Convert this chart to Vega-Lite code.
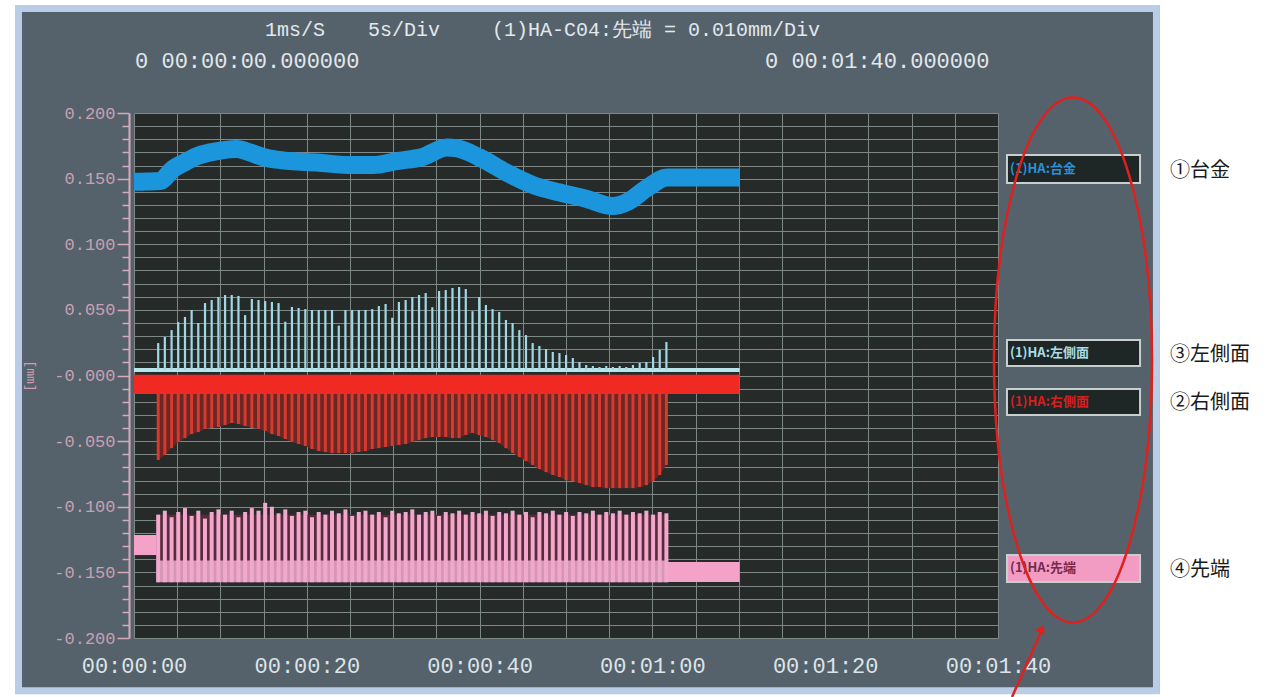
{
  "$schema": "https://vega.github.io/schema/vega-lite/v6.json",
  "width": 864,
  "height": 525,
  "autosize": {"type": "none"},
  "padding": {"left": 134, "top": 113, "right": 289, "bottom": 59},
  "background": "#56626b",
  "config": {"view": {"fill": "#262b2a", "stroke": null}},
  "datasets": {
    "white": [
      {"t0": 118.75, "t1": 140, "lo": -0.3, "hi": 0.32},
      {"t0": -20, "t1": -13.77, "lo": -0.3, "hi": 0.32},
      {"t0": -20, "t1": 140, "lo": 0.2823, "hi": 0.32},
      {"t0": -20, "t1": 140, "lo": -0.3, "hi": -0.2419}
    ],
    "frame": [{"t0": -13.37, "t1": 118.34, "lo": -0.2401, "hi": 0.2796}],
    "blue": [
      {"t": 0, "v": 0.1476}, {"t": 1.5, "v": 0.1478}, {"t": 3.0, "v": 0.1482}, {"t": 4.5, "v": 0.1573},
      {"t": 5.9, "v": 0.1625}, {"t": 7.3, "v": 0.1672}, {"t": 8.7, "v": 0.1698}, {"t": 10.0, "v": 0.1714},
      {"t": 11.9, "v": 0.1726}, {"t": 13.4, "v": 0.1700}, {"t": 14.9, "v": 0.1665}, {"t": 16.5, "v": 0.1645},
      {"t": 18.1, "v": 0.1634}, {"t": 21.2, "v": 0.1623}, {"t": 24.7, "v": 0.1604}, {"t": 27.7, "v": 0.1604},
      {"t": 30.4, "v": 0.1634}, {"t": 33.4, "v": 0.1665}, {"t": 36.2, "v": 0.1737}, {"t": 37.4, "v": 0.1730},
      {"t": 40.0, "v": 0.1661}, {"t": 43.2, "v": 0.1543}, {"t": 46.2, "v": 0.1451}, {"t": 49.3, "v": 0.1394},
      {"t": 52.4, "v": 0.1345}, {"t": 55.4, "v": 0.1291}, {"t": 57.1, "v": 0.1322}, {"t": 59.4, "v": 0.1429},
      {"t": 61.7, "v": 0.1509}, {"t": 65.0, "v": 0.1509}, {"t": 70.1, "v": 0.1509}
    ],
    "spikes": [
      {"t": 2.80, "up": 0.0247, "dn": -0.0644, "pk": -0.106},
      {"t": 3.57, "up": 0.0293, "dn": -0.0606, "pk": -0.103},
      {"t": 4.35, "up": 0.0346, "dn": -0.0553, "pk": -0.108},
      {"t": 5.12, "up": 0.0407, "dn": -0.0507, "pk": -0.104},
      {"t": 5.90, "up": 0.0446, "dn": -0.0477, "pk": -0.101},
      {"t": 6.67, "up": 0.0499, "dn": -0.0446, "pk": -0.107},
      {"t": 7.44, "up": 0.0400, "dn": -0.0431, "pk": -0.103},
      {"t": 8.22, "up": 0.0552, "dn": -0.0408, "pk": -0.109},
      {"t": 8.99, "up": 0.0575, "dn": -0.0400, "pk": -0.104},
      {"t": 9.77, "up": 0.0598, "dn": -0.0393, "pk": -0.102},
      {"t": 10.54, "up": 0.0613, "dn": -0.0377, "pk": -0.106},
      {"t": 11.31, "up": 0.0613, "dn": -0.0362, "pk": -0.103},
      {"t": 12.09, "up": 0.0606, "dn": -0.0370, "pk": -0.108},
      {"t": 12.86, "up": 0.0460, "dn": -0.0385, "pk": -0.104},
      {"t": 13.64, "up": 0.0583, "dn": -0.0400, "pk": -0.101},
      {"t": 14.41, "up": 0.0575, "dn": -0.0408, "pk": -0.103},
      {"t": 15.18, "up": 0.0567, "dn": -0.0423, "pk": -0.097},
      {"t": 15.96, "up": 0.0560, "dn": -0.0446, "pk": -0.100},
      {"t": 16.73, "up": 0.0552, "dn": -0.0461, "pk": -0.105},
      {"t": 17.51, "up": 0.0410, "dn": -0.0484, "pk": -0.102},
      {"t": 18.28, "up": 0.0522, "dn": -0.0507, "pk": -0.107},
      {"t": 19.05, "up": 0.0514, "dn": -0.0522, "pk": -0.104},
      {"t": 19.83, "up": 0.0506, "dn": -0.0537, "pk": -0.103},
      {"t": 20.60, "up": 0.0499, "dn": -0.0560, "pk": -0.108},
      {"t": 21.38, "up": 0.0499, "dn": -0.0576, "pk": -0.104},
      {"t": 22.15, "up": 0.0499, "dn": -0.0583, "pk": -0.106},
      {"t": 22.92, "up": 0.0499, "dn": -0.0591, "pk": -0.103},
      {"t": 23.70, "up": 0.0380, "dn": -0.0591, "pk": -0.105},
      {"t": 24.47, "up": 0.0499, "dn": -0.0591, "pk": -0.102},
      {"t": 25.25, "up": 0.0499, "dn": -0.0591, "pk": -0.107},
      {"t": 26.02, "up": 0.0499, "dn": -0.0583, "pk": -0.104},
      {"t": 26.79, "up": 0.0499, "dn": -0.0576, "pk": -0.103},
      {"t": 27.57, "up": 0.0506, "dn": -0.0560, "pk": -0.106},
      {"t": 28.34, "up": 0.0529, "dn": -0.0553, "pk": -0.104},
      {"t": 29.12, "up": 0.0545, "dn": -0.0545, "pk": -0.108},
      {"t": 29.89, "up": 0.0440, "dn": -0.0537, "pk": -0.103},
      {"t": 30.66, "up": 0.0560, "dn": -0.0530, "pk": -0.105},
      {"t": 31.44, "up": 0.0575, "dn": -0.0522, "pk": -0.104},
      {"t": 32.21, "up": 0.0598, "dn": -0.0507, "pk": -0.102},
      {"t": 32.99, "up": 0.0613, "dn": -0.0492, "pk": -0.106},
      {"t": 33.76, "up": 0.0628, "dn": -0.0477, "pk": -0.104},
      {"t": 34.53, "up": 0.0520, "dn": -0.0469, "pk": -0.103},
      {"t": 35.31, "up": 0.0644, "dn": -0.0469, "pk": -0.107},
      {"t": 36.08, "up": 0.0651, "dn": -0.0469, "pk": -0.104},
      {"t": 36.86, "up": 0.0667, "dn": -0.0477, "pk": -0.105},
      {"t": 37.63, "up": 0.0674, "dn": -0.0477, "pk": -0.103},
      {"t": 38.40, "up": 0.0659, "dn": -0.0454, "pk": -0.106},
      {"t": 39.18, "up": 0.0490, "dn": -0.0438, "pk": -0.104},
      {"t": 39.95, "up": 0.0598, "dn": -0.0454, "pk": -0.105},
      {"t": 40.73, "up": 0.0537, "dn": -0.0469, "pk": -0.103},
      {"t": 41.50, "up": 0.0506, "dn": -0.0492, "pk": -0.107},
      {"t": 42.27, "up": 0.0484, "dn": -0.0515, "pk": -0.104},
      {"t": 43.05, "up": 0.0423, "dn": -0.0553, "pk": -0.105},
      {"t": 43.82, "up": 0.0400, "dn": -0.0591, "pk": -0.103},
      {"t": 44.60, "up": 0.0346, "dn": -0.0621, "pk": -0.106},
      {"t": 45.37, "up": 0.0308, "dn": -0.0652, "pk": -0.104},
      {"t": 46.14, "up": 0.0247, "dn": -0.0682, "pk": -0.108},
      {"t": 46.92, "up": 0.0225, "dn": -0.0713, "pk": -0.104},
      {"t": 47.69, "up": 0.0202, "dn": -0.0736, "pk": -0.105},
      {"t": 48.47, "up": 0.0179, "dn": -0.0758, "pk": -0.103},
      {"t": 49.24, "up": 0.0171, "dn": -0.0774, "pk": -0.106},
      {"t": 50.01, "up": 0.0156, "dn": -0.0797, "pk": -0.104},
      {"t": 50.79, "up": 0.0133, "dn": -0.0804, "pk": -0.107},
      {"t": 51.56, "up": 0.0103, "dn": -0.0819, "pk": -0.104},
      {"t": 52.34, "up": 0.0080, "dn": -0.0835, "pk": -0.105},
      {"t": 53.11, "up": 0.0072, "dn": -0.0850, "pk": -0.103},
      {"t": 53.88, "up": 0.0065, "dn": -0.0850, "pk": -0.106},
      {"t": 54.66, "up": 0.0072, "dn": -0.0858, "pk": -0.104},
      {"t": 55.43, "up": 0.0065, "dn": -0.0858, "pk": -0.105},
      {"t": 56.21, "up": 0.0072, "dn": -0.0858, "pk": -0.103},
      {"t": 56.98, "up": 0.0065, "dn": -0.0858, "pk": -0.106},
      {"t": 57.75, "up": 0.0080, "dn": -0.0858, "pk": -0.104},
      {"t": 58.53, "up": 0.0095, "dn": -0.0850, "pk": -0.105},
      {"t": 59.30, "up": 0.0103, "dn": -0.0835, "pk": -0.103},
      {"t": 60.08, "up": 0.0141, "dn": -0.0804, "pk": -0.106},
      {"t": 60.85, "up": 0.0194, "dn": -0.0758, "pk": -0.104},
      {"t": 61.62, "up": 0.0255, "dn": -0.0682, "pk": -0.105}
    ],
    "pinkbands": [
      {"s": "pre", "t0": 0, "t1": 2.7, "lo": -0.1368, "hi": -0.1215},
      {"s": "bg", "t0": 2.6, "t1": 61.8, "lo": -0.1420, "hi": -0.1060},
      {"s": "low", "t0": 2.6, "t1": 61.8, "lo": -0.1575, "hi": -0.1410},
      {"s": "post", "t0": 61.8, "t1": 70.1, "lo": -0.1573, "hi": -0.1421}
    ],
    "redband": [{"t0": 0, "t1": 70.1, "lo": -0.0140, "hi": 0.0005}],
    "cyanbase": [{"t0": 0, "t1": 70.1, "v": 0.0042}],
    "legend": [
      {"s": "blue", "name": "(1)HA:台金", "t0": 101.04, "t1": 116.44, "lo": 0.1467, "hi": 0.1680, "ty": 0.1573},
      {"s": "cyan", "name": "(1)HA:左側面", "t0": 101.04, "t1": 116.44, "lo": 0.0072, "hi": 0.0271, "ty": 0.0171},
      {"s": "red", "name": "(1)HA:右側面", "t0": 101.04, "t1": 116.44, "lo": -0.0301, "hi": -0.0103, "ty": -0.0202},
      {"s": "pink", "name": "(1)HA:先端", "t0": 101.04, "t1": 116.44, "lo": -0.1573, "hi": -0.1368, "ty": -0.1470}
    ],
    "header": [
      {"label": "1ms/S", "t": 15.16, "v": 0.2632, "line": 1},
      {"label": "5s/Div", "t": 27.08, "v": 0.2632, "line": 1},
      {"label": "(1)HA-C04:先端 = 0.010mm/Div", "t": 41.44, "v": 0.2632, "line": 1},
      {"label": "0 00:00:00.000000", "t": 0.12, "v": 0.2396, "line": 2},
      {"label": "0 00:01:40.000000", "t": 73.03, "v": 0.2396, "line": 2}
    ],
    "notes": [
      {"label": "①台金", "t": 119.9, "v": 0.1558},
      {"label": "③左側面", "t": 119.9, "v": 0.0156},
      {"label": "②右側面", "t": 119.9, "v": -0.0210},
      {"label": "④先端", "t": 119.9, "v": -0.1482}
    ],
    "ellipse": [{"t": 108.68, "v": 0.0118}],
    "arrow": [{"t": 101.62, "v": -0.245}, {"t": 104.98, "v": -0.1955}],
    "arrowhead": [{"t": 105.06, "v": -0.1928}]
  },
  "layer": [
    {
      "data": {"name": "white"},
      "mark": {"type": "rect", "fill": "#ffffff", "clip": false},
      "encoding": {
        "x": {
          "field": "t0", "type": "quantitative",
          "scale": {"domain": [0, 100], "nice": false, "zero": false},
          "axis": {
            "title": null,
            "values": [0, 5, 10, 15, 20, 25, 30, 35, 40, 45, 50, 55, 60, 65, 70, 75, 80, 85, 90, 95, 100],
            "tickCount": 40,
            "labelExpr": "datum.value % 20 == 0 ? '00:0' + floor(datum.value/60) + ':' + (datum.value % 60 < 10 ? '0' : '') + (datum.value % 60) : ''",
            "grid": true, "gridColor": "#7e8887", "gridWidth": 1, "gridOpacity": 1,
            "domain": false, "ticks": false,
            "labelFont": "Liberation Mono", "labelFontSize": 22, "labelColor": "#dde4e8",
            "labelPadding": 17, "labelDx": -4, "labelOverlap": false, "labelFlush": false
          }
        },
        "x2": {"field": "t1"},
        "y": {
          "field": "lo", "type": "quantitative",
          "scale": {"domain": [-0.2, 0.2], "nice": false, "zero": false},
          "axis": {
            "title": "[mm]", "titleAngle": 90, "titleFontSize": 13, "titleColor": "#c9a0b4",
            "titleFont": "Liberation Mono", "titleFontWeight": "normal", "titlePadding": 30,
            "values": [-0.2, -0.19, -0.18, -0.17, -0.16, -0.15, -0.14, -0.13, -0.12, -0.11, -0.1, -0.09, -0.08, -0.07, -0.06, -0.05, -0.04, -0.03, -0.02, -0.01, 0, 0.01, 0.02, 0.03, 0.04, 0.05, 0.06, 0.07, 0.08, 0.09, 0.1, 0.11, 0.12, 0.13, 0.14, 0.15, 0.16, 0.17, 0.18, 0.19, 0.2],
            "tickCount": 60,
            "labelExpr": "abs(datum.value*20 - round(datum.value*20)) < 0.001 ? (datum.value <= 0 ? '-' : '') + format(abs(datum.value), '.3f') : ''",
            "grid": true, "gridColor": "#7e8887", "gridWidth": 1, "gridOpacity": 1,
            "offset": 5, "domainColor": "#d7a9bd", "domainWidth": 2,
            "tickColor": "#d7a9bd", "tickWidth": 1.5,
            "tickSize": {"condition": {"test": "abs(datum.value*20 - round(datum.value*20)) < 0.001", "value": 12}, "value": 7},
            "labelFont": "Liberation Mono", "labelFontSize": 17, "labelColor": "#c9a0b4",
            "labelPadding": 2, "labelOverlap": false, "labelFlush": false
          }
        },
        "y2": {"field": "hi"}
      }
    },
    {
      "data": {"name": "frame"},
      "mark": {"type": "rect", "filled": false, "fill": null, "stroke": "#b9cde6", "strokeWidth": 7, "clip": false},
      "encoding": {
        "x": {"field": "t0", "type": "quantitative"}, "x2": {"field": "t1"},
        "y": {"field": "lo", "type": "quantitative"}, "y2": {"field": "hi"}
      }
    },
    {
      "data": {"name": "blue"},
      "mark": {"type": "line", "color": "#1b95dc", "strokeWidth": 18, "interpolate": "monotone", "strokeCap": "butt"},
      "encoding": {
        "x": {"field": "t", "type": "quantitative"},
        "y": {"field": "v", "type": "quantitative"}
      }
    },
    {
      "data": {"name": "pinkbands"},
      "mark": {"type": "rect"},
      "encoding": {
        "x": {"field": "t0", "type": "quantitative"}, "x2": {"field": "t1"},
        "y": {"field": "lo", "type": "quantitative"}, "y2": {"field": "hi"},
        "fill": {
          "condition": [
            {"test": "datum.s == 'bg'", "value": "#5a2a3a"},
            {"test": "datum.s == 'low'", "value": "#d696b6"}
          ],
          "value": "#f4a2c8"
        }
      }
    },
    {
      "data": {"name": "spikes"},
      "mark": {"type": "rule", "color": "#f0a8cc", "strokeWidth": 4},
      "encoding": {
        "x": {"field": "t", "type": "quantitative"},
        "y": {"field": "pk", "type": "quantitative"},
        "y2": {"datum": -0.1575}
      }
    },
    {
      "data": {"name": "spikes"},
      "mark": {"type": "area", "color": "#6a2824", "interpolate": "linear"},
      "encoding": {
        "x": {"field": "t", "type": "quantitative"},
        "y": {"field": "dn", "type": "quantitative"},
        "y2": {"datum": -0.010}
      }
    },
    {
      "data": {"name": "spikes"},
      "mark": {"type": "rule", "color": "#d6392f", "strokeWidth": 3},
      "encoding": {
        "x": {"field": "t", "type": "quantitative"},
        "y": {"field": "dn", "type": "quantitative"},
        "y2": {"datum": -0.010}
      }
    },
    {
      "data": {"name": "redband"},
      "mark": {"type": "rect", "fill": "#f02a22"},
      "encoding": {
        "x": {"field": "t0", "type": "quantitative"}, "x2": {"field": "t1"},
        "y": {"field": "lo", "type": "quantitative"}, "y2": {"field": "hi"}
      }
    },
    {
      "data": {"name": "cyanbase"},
      "mark": {"type": "rule", "color": "#b8e4ec", "strokeWidth": 4},
      "encoding": {
        "x": {"field": "t0", "type": "quantitative"}, "x2": {"field": "t1"},
        "y": {"field": "v", "type": "quantitative"}
      }
    },
    {
      "data": {"name": "spikes"},
      "mark": {"type": "rule", "color": "#9fd9e4", "strokeWidth": 2.2},
      "encoding": {
        "x": {"field": "t", "type": "quantitative"},
        "y": {"field": "up", "type": "quantitative"},
        "y2": {"datum": 0.0042}
      }
    },
    {
      "data": {"name": "legend"},
      "mark": {"type": "rect", "stroke": "#c8cfcf", "strokeWidth": 2, "clip": false},
      "encoding": {
        "x": {"field": "t0", "type": "quantitative"}, "x2": {"field": "t1"},
        "y": {"field": "lo", "type": "quantitative"}, "y2": {"field": "hi"},
        "fill": {"condition": {"test": "datum.s == 'pink'", "value": "#f29cc4"}, "value": "#1e2725"}
      }
    },
    {
      "data": {"name": "legend"},
      "mark": {"type": "text", "align": "left", "baseline": "middle", "dx": 3, "font": "Noto Sans CJK JP", "fontSize": 13, "fontWeight": "bold", "clip": false},
      "encoding": {
        "x": {"field": "t0", "type": "quantitative"},
        "y": {"field": "ty", "type": "quantitative"},
        "text": {"field": "name"},
        "color": {
          "condition": [
            {"test": "datum.s == 'blue'", "value": "#2a90d8"},
            {"test": "datum.s == 'cyan'", "value": "#a8dce6"},
            {"test": "datum.s == 'red'", "value": "#d42020"}
          ],
          "value": "#7a2a4c"
        }
      }
    },
    {
      "data": {"name": "header"},
      "mark": {"type": "text", "align": "left", "baseline": "middle", "font": "Liberation Mono", "color": "#e2e8ec", "clip": false},
      "encoding": {
        "x": {"field": "t", "type": "quantitative"},
        "y": {"field": "v", "type": "quantitative"},
        "text": {"field": "label"},
        "size": {"condition": {"test": "datum.line == 1", "value": 20}, "value": 22}
      }
    },
    {
      "data": {"name": "notes"},
      "mark": {"type": "text", "align": "left", "baseline": "middle", "font": "Noto Sans CJK JP", "fontSize": 20, "color": "#1a1a1a", "clip": false},
      "encoding": {
        "x": {"field": "t", "type": "quantitative"},
        "y": {"field": "v", "type": "quantitative"},
        "text": {"field": "label"}
      }
    },
    {
      "data": {"name": "ellipse"},
      "mark": {
        "type": "point", "filled": false, "stroke": "#e0201c", "strokeWidth": 2.5, "opacity": 1, "clip": false,
        "size": 275625,
        "shape": "M0,-1 C0.166,-1 0.301,-0.5523 0.301,0 C0.301,0.5523 0.166,1 0,1 C-0.166,1 -0.301,0.5523 -0.301,0 C-0.301,-0.5523 -0.166,-1 0,-1 Z"
      },
      "encoding": {
        "x": {"field": "t", "type": "quantitative"},
        "y": {"field": "v", "type": "quantitative"}
      }
    },
    {
      "data": {"name": "arrow"},
      "mark": {"type": "line", "color": "#e0201c", "strokeWidth": 2.5, "clip": false},
      "encoding": {
        "x": {"field": "t", "type": "quantitative"},
        "y": {"field": "v", "type": "quantitative"}
      }
    },
    {
      "data": {"name": "arrowhead"},
      "mark": {"type": "point", "shape": "triangle-up", "filled": true, "color": "#e0201c", "opacity": 1, "size": 110, "angle": 24, "clip": false},
      "encoding": {
        "x": {"field": "t", "type": "quantitative"},
        "y": {"field": "v", "type": "quantitative"}
      }
    }
  ]
}
